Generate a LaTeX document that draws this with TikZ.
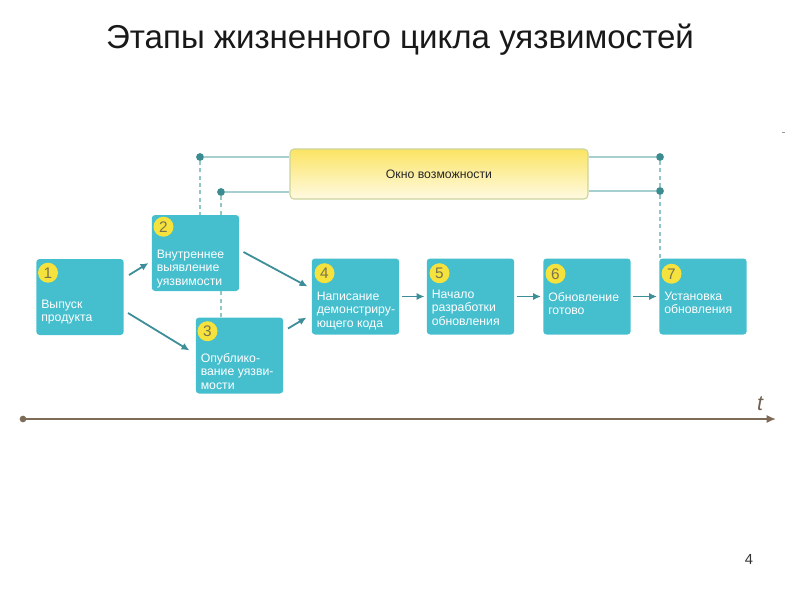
\documentclass[tikz,border=0pt]{standalone}
\usepackage{fontspec}
\setmainfont{Liberation Sans}
\usetikzlibrary{calc,arrows.meta}
\definecolor{boxc}{HTML}{45BECE}
\definecolor{numc}{HTML}{F6E23C}
\definecolor{numtxt}{HTML}{7A7350}
\definecolor{arrc}{HTML}{3D8E98}
\definecolor{linec}{HTML}{A6D0CF}
\definecolor{dotc}{HTML}{3B8C90}
\definecolor{dashc}{HTML}{93C6C6}
\definecolor{axisc}{HTML}{7D6B58}
\definecolor{ytop}{HTML}{FBE463}
\definecolor{ybot}{HTML}{FFFAE2}
\definecolor{yborder}{HTML}{CBD49A}
\begin{document}
\begin{tikzpicture}[x=0.75pt,y=-0.75pt,
  stagebox/.style={rectangle, rounded corners=2.5pt, fill=boxc, minimum width=65.6pt, minimum height=57pt, inner sep=0pt},
  numdisc/.style={circle, fill=numc, minimum size=15pt, inner sep=0pt, text=numtxt, font=\fontsize{11.5}{12}\selectfont},
  btxt/.style={anchor=north west, inner sep=0pt, align=left, text=white, font=\fontsize{9.2}{10}\selectfont},
  arr/.style={-{Latex[length=6pt,width=5.5pt]}, line width=1.35pt, draw=arrc},
  link/.style={draw=linec, line width=1.2pt},
  dashl/.style={draw=dashc, line width=1pt, dash pattern=on 3pt off 2.5pt},
  tdot/.style={circle, fill=dotc, minimum size=5.6pt, inner sep=0pt},
  adot/.style={circle, fill=axisc, minimum size=5pt, inner sep=0pt}]
\useasboundingbox (0,0) rectangle (800,600);

% title
\node[anchor=base, font=\fontsize{24.8}{30}\selectfont, text=black!90] (title) at (400,48.5) {Этапы жизненного цикла уязвимостей};

% yellow window
\node[rectangle, rounded corners=3pt, draw=yborder, line width=0.8pt, top color=ytop, bottom color=ybot,
      minimum width=223.5pt, minimum height=37.5pt, inner sep=0pt,
      font=\fontsize{9.2}{10}\selectfont, text=black!85] (yw) at (439,174) {Окно возможности};

% dots
\node[tdot] (d1) at (200,157) {};
\node[tdot] (d2) at (221,192) {};
\node[tdot] (d3) at (660,157) {};
\node[tdot] (d4) at (660,191) {};

% boxes
\node[stagebox] (b1) at (80,297) {};
\node[stagebox] (b2) at (195.5,253) {};
\node[stagebox] (b3) at (239.5,355.5) {};
\node[stagebox] (b4) at (355.5,296.5) {};
\node[stagebox] (b5) at (470.5,296.5) {};
\node[stagebox] (b6) at (587,296.5) {};
\node[stagebox] (b7) at (703,296.5) {};

% links to window
\draw[link] (d1.center) -- (d1.center -| yw.west);
\draw[link] (d2.center) -- (d2.center -| yw.west);
\draw[link] (d3.center -| yw.east) -- (d3.center);
\draw[link] (d4.center -| yw.east) -- (d4.center);
\draw[dashl] (d1.south) -- (d1.center |- b2.north);
\draw[dashl] (d2.south) -- (d2.center |- b2.north);
\draw[dashl] (d2.center |- b2.south) -- (d2.center |- b3.north);
\draw[dashl] (d3.south) -- (d4.north);
\draw[dashl] (d4.south) -- (d4.center |- b7.north);
\node[tdot] at (d1) {};
\node[tdot] at (d2) {};
\node[tdot] at (d3) {};
\node[tdot] at (d4) {};

% numbers
\node[numdisc] (n1) at ($(b1.north west)+(12,14)$) {1};
\node[numdisc] (n2) at ($(b2.north west)+(12,12)$) {2};
\node[numdisc] (n3) at ($(b3.north west)+(12,14)$) {3};
\node[numdisc] (n4) at ($(b4.north west)+(13,15)$) {4};
\node[numdisc] (n5) at ($(b5.north west)+(13,15)$) {5};
\node[numdisc] (n6) at ($(b6.north west)+(12.5,15.5)$) {6};
\node[numdisc] (n7) at ($(b7.north west)+(12.5,15.5)$) {7};

% texts
\node[btxt] (t1) at ($(b1.north west)+(5,41)$) {Выпуск\\продукта};
\node[btxt] (t2) at ($(b2.north west)+(5,35)$) {Внутреннее\\выявление\\уязвимости};
\node[btxt] (t3) at ($(b3.north west)+(5,36)$) {Опублико-\\вание уязви-\\мости};
\node[btxt] (t4) at ($(b4.north west)+(5,33.5)$) {Написание\\демонстриру-\\ющего кода};
\node[btxt] (t5) at ($(b5.north west)+(5,31.5)$) {Начало\\разработки\\обновления};
\node[btxt] (t6) at ($(b6.north west)+(5,33.5)$) {Обновление\\готово};
\node[btxt] (t7) at ($(b7.north west)+(5,33.5)$) {Установка\\обновления};

% arrows
\draw[arr] ($(b1.east)+(5,-22)$) -- ($(b2.west)+(-3,10)$);
\draw[arr] ($(b1.east)+(4,16)$) -- ($(b3.west)+(-6,-5)$);
\draw[arr] ($(b2.east)+(4,-1)$) -- ($(b4.west)+(-4,-10)$);
\draw[arr] ($(b3.east)+(4.5,-27)$) -- ($(b4.west)+(-5,21)$);
\draw[arr, shorten <=1.5pt, shorten >=1.5pt] (b4.east) -- (b5.west);
\draw[arr, shorten <=1.5pt, shorten >=1.5pt] (b5.east) -- (b6.west);
\draw[arr, shorten <=1.5pt, shorten >=1.5pt] (b6.east) -- (b7.west);

% time axis
\node[adot] (a0) at (23,419) {};
\coordinate (a1) at (776,419);
\draw[-{Latex[length=7pt,width=6pt]}, draw=axisc, fill=axisc, line width=1.2pt] (a0.center) -- (a1);
\node[font=\fontsize{16}{18}\selectfont\itshape, text=axisc!90!black] (tl) at (760,404) {t};

% page number and mark
\node[font=\fontsize{11}{12}\selectfont, text=black!80] (pg) at (749,559) {4};
\draw[black!40, line width=0.6pt] (781.5,132) -- (785,132);
\end{tikzpicture}
\end{document}
